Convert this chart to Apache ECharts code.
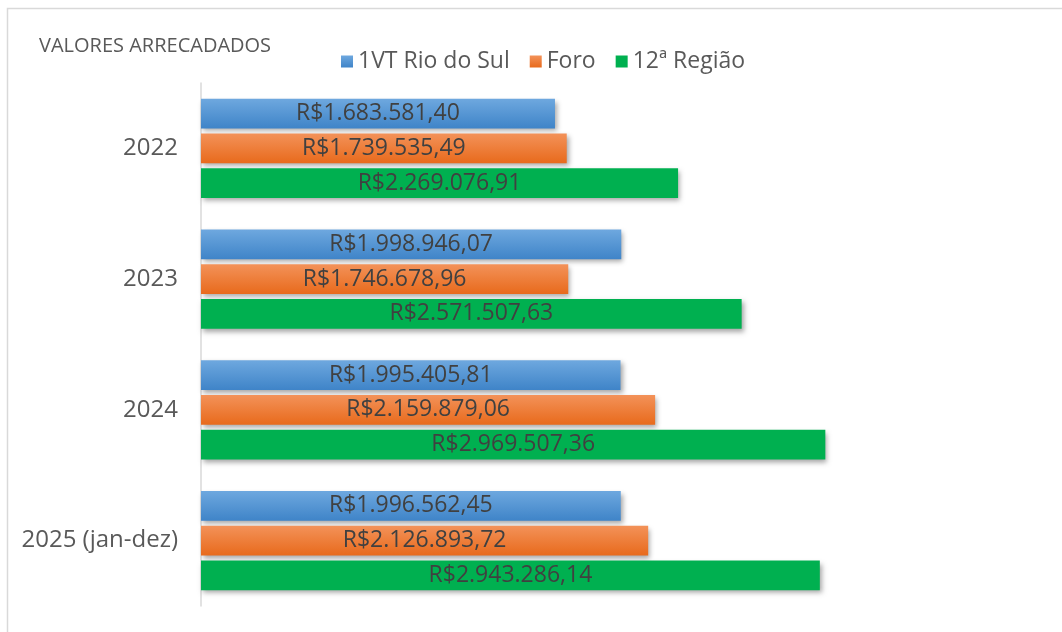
<!DOCTYPE html>
<html>
<head>
<meta charset="utf-8">
<script src="https://cdn.jsdelivr.net/npm/echarts@6/dist/echarts.min.js"></script>
<style>
  html, body { margin: 0; padding: 0; background: #fff; }
  #chart { width: 1062px; height: 632px; }
</style>
</head>
<body>
<div id="chart"></div>
<script>
// anos (de cima para baixo)
var categorias = ['2022', '2023', '2024', '2025 (jan-dez)'];
var serieNomes = ['1VT Rio do Sul', 'Foro', '12ª Região'];
var vt1 = [1683581.40, 1998946.07, 1995405.81, 1996562.45];
var foro = [1739535.49, 1746678.96, 2159879.06, 2126893.72];
var regiao12 = [2269076.91, 2571507.63, 2969507.36, 2943286.14];

function moeda(v) {
  var partes = v.toFixed(2).split('.');
  var inteiro = partes[0].replace(/\B(?=(\d{3})+(?!\d))/g, '.');
  return 'R$' + inteiro + ',' + partes[1];
}

function grad(c1, c2) {
  return new echarts.graphic.LinearGradient(0, 0, 0, 1, [
    {offset: 0, color: c1},
    {offset: 1, color: c2}
  ]);
}

var fonte = '"Open Sans", Lato, sans-serif';

function serie(nome, dados, cor) {
  return {
    name: nome,
    type: 'bar',
    data: dados,
    barGap: '17%',
    barCategoryGap: '24%',
    itemStyle: {
      color: cor,
      shadowBlur: 5,
      shadowOffsetX: 2,
      shadowOffsetY: 3,
      shadowColor: 'rgba(0,0,0,0.35)'
    },
    label: {
      show: true,
      position: 'inside',
      formatter: function (p) { return moeda(p.value); },
      color: '#404040',
      fontSize: 23,
      fontFamily: fonte
    }
  };
}

var chart = echarts.init(document.getElementById('chart'));
chart.setOption({
  animation: false,
  title: {
    text: 'VALORES ARRECADADOS',
    left: 34,
    top: 31,
    textStyle: { color: '#595959', fontSize: 20, fontWeight: 'normal', fontFamily: fonte }
  },
  legend: {
    data: serieNomes,
    left: 336,
    top: 45,
    itemWidth: 12,
    itemHeight: 12,
    itemGap: 20,
    icon: 'rect',
    textStyle: { color: '#595959', fontSize: 23, fontFamily: fonte }
  },
  graphic: [{
    type: 'rect',
    shape: { x: 7.5, y: 8.5, width: 1070, height: 640 },
    style: { fill: 'none', stroke: '#d9d9d9', lineWidth: 1.5 },
    silent: true
  }],
  grid: { left: 201, right: 20, top: 83, bottom: 26, containLabel: false },
  xAxis: {
    type: 'value',
    min: 0,
    max: 4000000,
    show: false
  },
  yAxis: {
    type: 'category',
    data: categorias,
    inverse: true,
    axisLine: { show: true, lineStyle: { color: '#d9d9d9', width: 1.5 } },
    axisTick: { show: false },
    axisLabel: { color: '#595959', fontSize: 24, fontFamily: fonte, margin: 23 }
  },
  series: [
    serie(serieNomes[0], vt1, grad('#6ea8df', '#3f84c8')),
    serie(serieNomes[1], foro, grad('#f39259', '#e86a1c')),
    serie(serieNomes[2], regiao12, '#00b050')
  ]
});
</script>
</body>
</html>
